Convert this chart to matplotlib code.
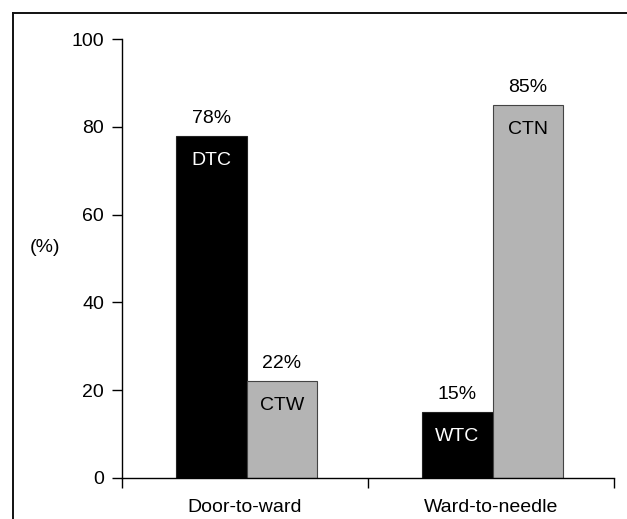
import matplotlib
matplotlib.use("Agg")
import matplotlib.pyplot as plt
from matplotlib.lines import Line2D

plt.rcParams['font.family'] = ['Liberation Sans', 'DejaVu Sans']

categories = ["Door-to-ward", "Ward-to-needle"]
first_values = [78, 15]
first_labels = ["DTC", "WTC"]
second_values = [22, 85]
second_labels = ["CTW", "CTN"]
y_ticks = [0, 20, 40, 60, 80, 100]

FS = 14

fig = plt.figure(figsize=(6.27, 5.19), dpi=100)
ax = fig.add_axes([122 / 627, 1 - 478 / 519, 492 / 627, 439 / 519])

black = "#000000"
grey = "#b4b4b4"
width = 0.287
for i, (v1, v2) in enumerate(zip(first_values, second_values)):
    left1 = i + 0.22
    left2 = left1 + width
    ax.bar(left1, v1, width=width, align="edge", color=black, edgecolor="#222222", linewidth=0.8)
    ax.bar(left2, v2, width=width, align="edge", color=grey, edgecolor="#444444", linewidth=0.8)
    for left, v, lab, tc in ((left1, v1, first_labels[i], "white"),
                             (left2, v2, second_labels[i], "black")):
        cx = left + width / 2
        ax.annotate(f"{v}%", (cx, v), xytext=(0, 9), textcoords="offset pixels",
                    ha="center", va="bottom", fontsize=FS)
        ax.annotate(lab, (cx, v), xytext=(0, -16), textcoords="offset pixels",
                    ha="center", va="top", fontsize=FS, color=tc)

ax.set_xlim(0, 2)
ax.set_ylim(0, 100)
ax.set_yticks(y_ticks)
ax.set_xticks([0, 1, 2])
ax.set_xticklabels([])
ax.set_xticks([0.5, 1.5], minor=True)
ax.set_xticklabels(categories, minor=True)
ax.tick_params(axis="x", which="major", length=7, width=1, direction="out")
ax.tick_params(axis="x", which="minor", length=0, pad=15, labelsize=FS)
ax.tick_params(axis="y", length=7, width=1, direction="out", pad=6, labelsize=FS)
for s in ("top", "right"):
    ax.spines[s].set_visible(False)
for s in ("left", "bottom"):
    ax.spines[s].set_linewidth(1)

fig.text(45 / 627, 1 - 247 / 519, "(%)", ha="center", va="center", fontsize=FS)

# outer frame (top and left edges)
fx = 13 / 627
fy = 1 - 13 / 519
fig.add_artist(Line2D([fx, 1.01], [fy, fy], transform=fig.transFigure, color="#111111", lw=1.4))
fig.add_artist(Line2D([fx, fx], [fy, -0.01], transform=fig.transFigure, color="#111111", lw=1.4))

fig.savefig("out.png", dpi=100)
